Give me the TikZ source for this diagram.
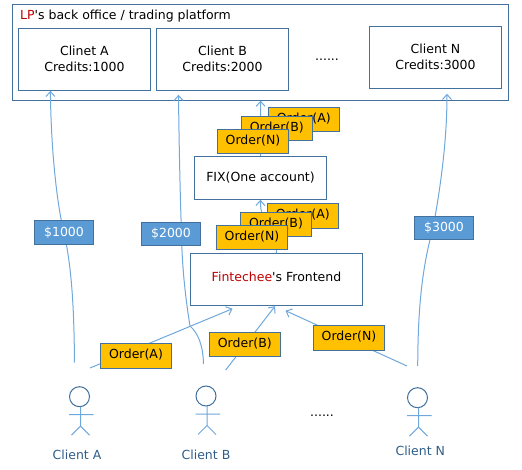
\documentclass[tikz,border=0pt]{standalone}
\usepackage{fontspec}
\setmainfont{DejaVu Sans}[Ligatures=TeXOff]
\usetikzlibrary{arrows.meta, positioning}
\definecolor{boxline}{HTML}{41719C}
\definecolor{flowline}{HTML}{6FA8DC}
\definecolor{orderfill}{HTML}{FFC000}
\definecolor{cashfill}{HTML}{5B9BD5}
\definecolor{lpred}{HTML}{C00000}
\definecolor{captionblue}{HTML}{2F5D8A}
\tikzset{x=1pt, y=-1pt,
  plainbox/.style = {draw=boxline, fill=white, line width=1pt, inner sep=0pt, align=center,
      font=\fontsize{12.5}{16}\selectfont},
  clientbox/.style = {plainbox, minimum width=132pt, minimum height=62pt},
  orderbox/.style = {draw=boxline, fill=orderfill, line width=1pt, inner sep=0pt,
      minimum width=71pt, minimum height=24.5pt, text height=8pt, text depth=2pt,
      font=\fontsize{12.5}{14}\selectfont},
  cashbox/.style = {draw=boxline, fill=cashfill, text=white, line width=1pt, inner sep=0pt,
      minimum width=59pt, minimum height=23.5pt, font=\fontsize{12.5}{14}\selectfont},
  flow/.style = {draw=flowline, line width=1pt},
  flowhead/.style = {flow, -{Straight Barb[length=5pt, width=9pt]}},
  caption/.style = {text=captionblue, inner sep=0pt, font=\fontsize{12.5}{14}\selectfont},
  dotrow/.style = {inner sep=0pt, anchor=base, font=\fontsize{12.5}{14}\selectfont},
}
\newcommand{\stickman}[2]{%
  \draw[boxline, line width=1pt] (#1,#2) circle (10);
  \draw[flow] (#1+1,#2+10) -- (#1+1,#2+29.5) (#1-10.5,#2+18) -- (#1+14,#2+18)
    (#1-8,#2+38.5) -- (#1+1,#2+29.5) -- (#1+10,#2+38.5);
}
\begin{document}
\begin{tikzpicture}
  \useasboundingbox (0,0) rectangle (522,470);
  % LP side
  \node[plainbox, minimum width=496pt, minimum height=95.5pt] (lpbox) at (260.6,52.4) {};
  \node[inner sep=0pt, anchor=west, font=\fontsize{12.5}{16}\selectfont] (lptitle) at (20,16.5)
    {\textcolor{lpred}{LP}'s back office / trading platform};
  \node[clientbox] (clientA) at (84.4,59.3) {Clinet A\\Credits:1000};
  \node[clientbox] (clientB) at (222.5,59.3) {Client B\\Credits:2000};
  \node[clientbox] (clientN) at (435.5,57.3) {Client N\\Credits:3000};
  \node[dotrow] (lpdots) at (327,61) {......};
  % middle boxes
  \node[plainbox, minimum width=132.4pt, minimum height=43pt] (fix) at (260.5,177.8) {FIX(One account)};
  \node[plainbox, minimum width=172.4pt, minimum height=52.4pt, text depth=5pt] (frontend) at (276.5,279.5)
    {\textcolor{lpred}{Fintechee}'s Frontend};
  % free ends of the lines
  \coordinate (footA) at (74.5,362.5);
  \coordinate (footB) at (203.5,364);
  \coordinate (footN) at (417.7,366);
  \coordinate (ordfootA) at (90,368);
  \coordinate (ordfootB) at (225.7,370);
  \coordinate (ordfootN) at (407,366);
  \coordinate (midA) at (64,232.6);
  \coordinate (midB) at (171,234);
  \coordinate (midN) at (444,228);
  % lines go under the labels
  \draw[flowhead] (footA) .. controls (74,300) and (71,265) .. (64,232.6)
    .. controls (57,205) and (51,150) .. ([xshift=-34pt]clientA.south);
  \draw[flowhead] (footB) .. controls (203,345) and (198,333) .. (190,326)
    .. controls (185,295) and (182,265) .. (181.5,234)
    .. controls (180,190) and (179,140) .. ([xshift=-44pt, yshift=-4pt]clientB.south);
  \draw[flowhead] (footN) .. controls (418,320) and (420,275) .. (433,228)
    .. controls (442,180) and (447,135) .. ([xshift=11.5pt, yshift=-5pt]clientN.south);
  \draw[flowhead] (fix) -- (lpbox.south);
  \draw[flowhead] (frontend.north) .. controls (276,230) and (260,225) .. (fix.south);
  \draw[flowhead] (ordfootA) -- ([xshift=-44pt, yshift=-2.5pt]frontend.south);
  \draw[flowhead] (ordfootB) -- ([xshift=-1.5pt]frontend.south);
  \draw[flowhead] (ordfootN) -- ([xshift=9pt, yshift=-4.5pt]frontend.south);
  % order stacks
  \node[orderbox] (upA) at (303.8,119.3) {Order(A)};
  \node[orderbox] (upB) at (276.8,128.7) {Order(B)};
  \node[orderbox] (upN) at (253,141.7) {Order(N)};
  \node[orderbox] (lowA) at (302.8,215.8) {Order(A)};
  \node[orderbox] (lowB) at (276,224.3) {Order(B)};
  \node[orderbox] (lowN) at (252,237.5) {Order(N)};
  \node[orderbox] (ordA) at (136,355.8) {Order(A)};
  \node[orderbox] (ordB) at (244.8,344.5) {Order(B)};
  \node[orderbox] (ordN) at (349,337.8) {Order(N)};
  % money
  \node[cashbox] (cashA) at (midA) {\$1000};
  \node[cashbox] (cashB) at (midB) {\$2000};
  \node[cashbox] (cashN) at (midN) {\$3000};
  % clients
  \stickman{79.5}{396.7}
  \stickman{206}{396}
  \stickman{417.5}{397.7}
  \node[caption] (nameA) at (77,454.5) {Client A};
  \node[caption] (nameB) at (206,454.5) {Client B};
  \node[caption] (nameN) at (420.3,450.5) {Client N};
  \node[dotrow] (clientdots) at (322,416) {......};
\end{tikzpicture}
\end{document}
